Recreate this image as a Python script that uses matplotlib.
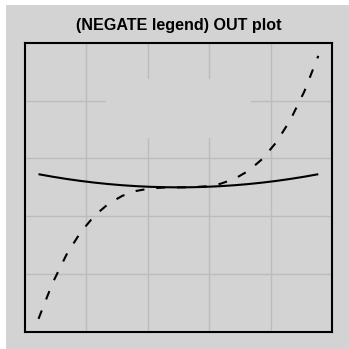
import matplotlib
matplotlib.use("Agg")
import matplotlib.pyplot as plt
import numpy as np
from matplotlib.patches import Rectangle

# Sampled curve values
x_vals = [-1.0, -0.9, -0.8, -0.7, -0.6, -0.5, -0.4, -0.3, -0.2, -0.1, 0.0,
          0.1, 0.2, 0.3, 0.4, 0.5, 0.6, 0.7, 0.8, 0.9, 1.0]
solid_vals = [0.100, 0.081, 0.064, 0.049, 0.036, 0.025, 0.016, 0.009, 0.004, 0.001, 0.000,
              0.001, 0.004, 0.009, 0.016, 0.025, 0.036, 0.049, 0.064, 0.081, 0.100]
dashed_vals = [-1.000, -0.729, -0.512, -0.343, -0.216, -0.125, -0.064, -0.027, -0.008, -0.001, 0.000,
               0.001, 0.008, 0.027, 0.064, 0.125, 0.216, 0.343, 0.512, 0.729, 1.000]
title_text = "(NEGATE legend) OUT plot"

bg = "#d3d3d3"
grid_c = "#bcbcbc"

plt.rcParams["font.family"] = ["Liberation Sans", "DejaVu Sans"]

fig = plt.figure(figsize=(3.49, 3.49), dpi=100, facecolor="white")
W, H = 349.0, 349.0
# grey panel behind the plot
fig.add_artist(Rectangle((6 / W, -0.01), 1.01 - 6 / W, 1.01 - 5 / H, transform=fig.transFigure,
                         facecolor=bg, edgecolor="none", zorder=0))

left, right = 24.5 / W, 332.3 / W
top, bottom = 1 - 42.7 / H, 1 - 332.0 / H
ax = fig.add_axes([left, bottom, right - left, top - bottom])
ax.set_facecolor(bg)

ax.plot(x_vals, solid_vals, color="black", lw=1.5, solid_capstyle="butt", zorder=3)
ax.plot(x_vals, dashed_vals, color="black", lw=1.5, dashes=(4.3, 5.7),
        dash_capstyle="butt", zorder=3)

x0, x1 = ax.get_xlim()
y0, y1 = ax.get_ylim()
ax.set_xticks(np.linspace(x0, x1, 6)[1:-1])
ax.set_yticks(np.linspace(y0, y1, 6)[1:-1])
ax.set_xlim(x0, x1)
ax.set_ylim(y0, y1)
ax.tick_params(length=0, labelbottom=False, labelleft=False)
ax.grid(True, color=grid_c, lw=1.0)
ax.set_axisbelow(True)

# empty legend area masking the grid
ax.add_patch(Rectangle((0.2648, 0.6695), 0.7359 - 0.2648, 0.8735 - 0.6695,
                       transform=ax.transAxes, facecolor=bg, edgecolor="none", zorder=2))

for s in ax.spines.values():
    s.set_linewidth(1.5)
    s.set_color("black")

ax.set_title(title_text, fontsize=11.6, fontweight="bold", pad=9.5)

fig.savefig("out.png", dpi=100, facecolor=fig.get_facecolor())
